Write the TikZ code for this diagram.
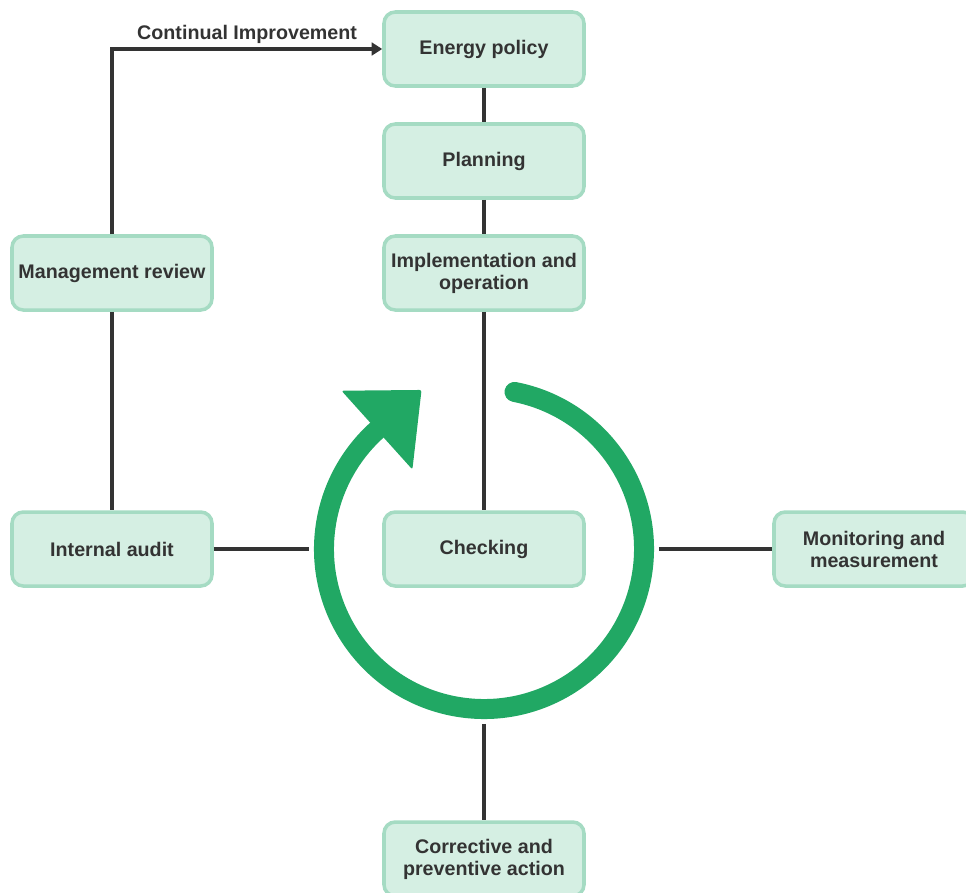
\documentclass[tikz,border=0pt]{standalone}
\usepackage{fontspec}
\setmainfont{Liberation Sans}
\usetikzlibrary{arrows.meta, calc}
\definecolor{boxfill}{RGB}{213,239,227}
\definecolor{boxline}{RGB}{165,219,195}
\definecolor{ringgreen}{RGB}{33,168,100}
\definecolor{darktext}{RGB}{51,51,51}

\begin{document}
\begin{tikzpicture}[
    stage/.style = {rectangle, draw=boxline, fill=boxfill, line width=2.5pt, rounded corners=8pt, align=center, font=\bfseries\fontsize{14}{15.6}\selectfont, text=darktext, minimum width=5cm, minimum height=1.85cm, inner sep=2pt},
    link/.style = {draw=darktext, line width=2.4pt},
    arrow/.style = {link, -{Triangle[length=7.5pt,width=9pt]}}
]
\useasboundingbox (0,0) rectangle (24.15,-22.3);
\node (ep) [stage] at (12.1,-1.225) {Energy policy};
\node (plan) [stage] at (12.1,-4.025) {Planning};
\node (impl) [stage] at (12.1,-6.825) {Implementation and\\operation};
\node (mr) [stage] at (2.8,-6.825) {Management review};
\node (ia) [stage] at (2.8,-13.725) {Internal audit};
\node (chk) [stage] at (12.1,-13.725) {Checking};
\node (mon) [stage] at (21.85,-13.725) {Monitoring and\\measurement};
\node (cor) [stage] at (12.1,-21.475) {Corrective and\\preventive action};

% cycle ring
\coordinate (c) at (12.1,-13.725);
\coordinate (rw) at ($(c)+(180:4.37)$);
\coordinate (re) at ($(c)+(0:4.37)$);
\coordinate (rs) at ($(c)+(270:4.37)$);
\draw [ringgreen, line width=0.5cm, line cap=round] ($(c)+(79:4)$) arc [start angle=79, end angle=-228, radius=4];
\fill [ringgreen, rounded corners=1.5pt] ($(c)+(132:4)+(132:1.325)$) -- ($(c)+(132:4)+(42:1.5)$) -- ($(c)+(132:4)+(312:1.325)$) -- cycle;

\draw [link] (ep) -- (plan);
\draw [link] (plan) -- (impl);
\draw [link] (impl) -- (chk);
\draw [link] (mr) -- (ia);
\draw [arrow] (mr) |- node[above, pos=0.75, inner sep=3pt, text=darktext, font=\bfseries\fontsize{14}{15.6}\selectfont]{Continual Improvement} (ep);
\draw [link] (ia) -- (rw);
\draw [link] (re) -- (mon);
\draw [link] (rs) -- (cor);
\end{tikzpicture}
\end{document}
